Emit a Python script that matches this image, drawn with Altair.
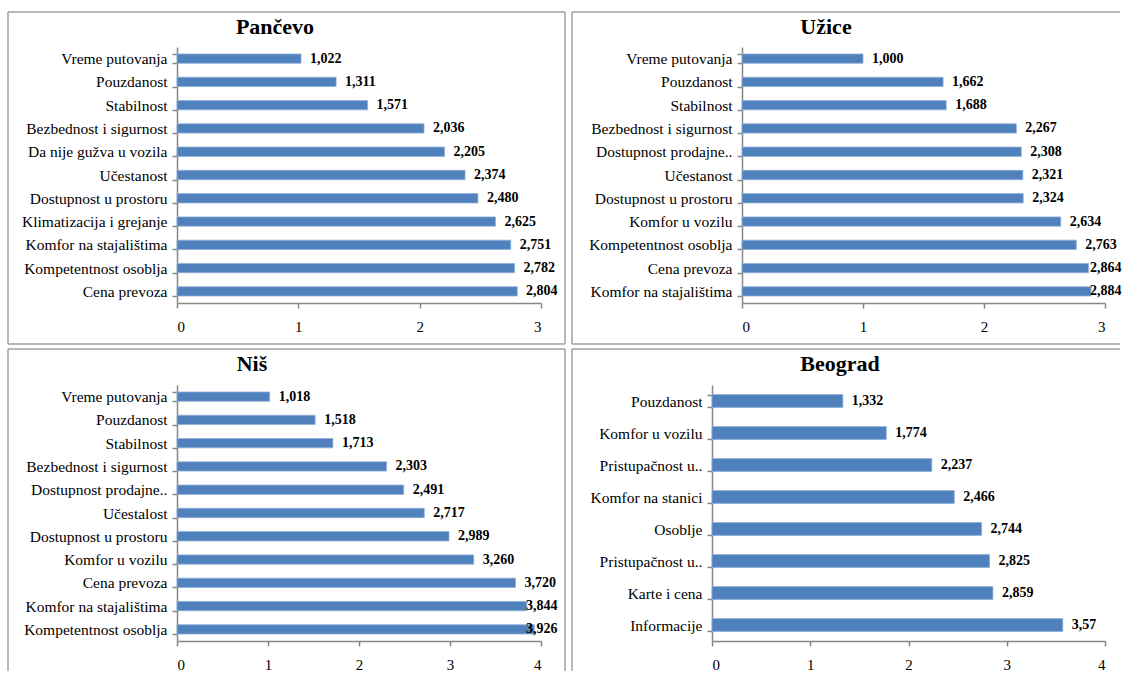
import json

import altair as alt
import pandas as pd

FONT = "Liberation Serif"
BAR_FILL = "#4F81BD"
BAR_EDGE = "#8FAFD8"
AXIS_GREY = "#878787"
FRAME_GREY = "#A0A0A0"

# ---- data: items listed top to bottom, scores as written on the labels ----
pancevo_items = [
    "Vreme putovanja", "Pouzdanost", "Stabilnost", "Bezbednost i sigurnost",
    "Da nije gužva u vozila", "Učestanost", "Dostupnost u prostoru",
    "Klimatizacija i grejanje", "Komfor na stajalištima",
    "Kompetentnost osoblja", "Cena prevoza",
]
pancevo_scores = ["1.022", "1.311", "1.571", "2.036", "2.205", "2.374",
                  "2.480", "2.625", "2.751", "2.782", "2.804"]

uzice_items = [
    "Vreme putovanja", "Pouzdanost", "Stabilnost", "Bezbednost i sigurnost",
    "Dostupnost prodajne..", "Učestanost", "Dostupnost u prostoru",
    "Komfor u vozilu", "Kompetentnost osoblja", "Cena prevoza",
    "Komfor na stajalištima",
]
uzice_scores = ["1.000", "1.662", "1.688", "2.267", "2.308", "2.321",
                "2.324", "2.634", "2.763", "2.864", "2.884"]

nis_items = [
    "Vreme putovanja", "Pouzdanost", "Stabilnost", "Bezbednost i sigurnost",
    "Dostupnost prodajne..", "Učestalost", "Dostupnost u prostoru",
    "Komfor u vozilu", "Cena prevoza", "Komfor na stajalištima",
    "Kompetentnost osoblja",
]
nis_scores = ["1.018", "1.518", "1.713", "2.303", "2.491", "2.717",
              "2.989", "3.260", "3.720", "3.844", "3.926"]

beograd_items = [
    "Pouzdanost", "Komfor u vozilu", "Pristupačnost u..", "Komfor na stanici",
    "Osoblje", "Pristupačnost u..", "Karte i cena", "Informacije",
]
beograd_scores = ["1.332", "1.774", "2.237", "2.466", "2.744", "2.825",
                  "2.859", "3.57"]

PLOT_H = 256
LABEL_GAP = 9      # px between a bar end and its value label
LABEL_STOP = 15    # value labels never start closer than this to the right edge
ONE_ROW = pd.DataFrame({"k": [0]})


def frame_segment(x1, x2, y1, y2):
    return alt.Chart(ONE_ROW).mark_rule(
        color=FRAME_GREY, strokeWidth=1.5
    ).encode(x=alt.value(x1), x2=alt.value(x2), y=alt.value(y1), y2=alt.value(y2))


def panel(title, items, scores, xmax, width, title_x, title_y, frame):
    df = pd.DataFrame({
        "rank": list(range(len(items))),
        "score": [float(s) for s in scores],
        "label": [s.replace(".", ",") for s in scores],
    })
    names = json.dumps(items, ensure_ascii=False)
    unit = xmax / width  # data units per pixel

    y_enc = alt.Y(
        "rank:O",
        sort="ascending",
        scale=alt.Scale(paddingInner=0.6, paddingOuter=0.3),
        axis=alt.Axis(
            title=None,
            labelExpr=f"{names}[datum.value]",
            tickBand="extent",
            tickSize=5,
            tickColor=AXIS_GREY,
            domainColor=AXIS_GREY,
            domainWidth=1.5,
            tickWidth=1.5,
            labelPadding=5,
            labelFont=FONT,
            labelFontSize=15.5,
            labelColor="black",
            labelLimit=400,
        ),
    )
    x_enc = alt.X(
        "score:Q",
        scale=alt.Scale(domain=[0, xmax], nice=False, zero=True),
        axis=alt.Axis(
            title=None,
            values=list(range(xmax + 1)),
            format="d",
            grid=False,
            tickSize=5,
            tickColor=AXIS_GREY,
            domainColor=AXIS_GREY,
            domainWidth=1.5,
            tickWidth=1.5,
            labelPadding=11,
            labelFont=FONT,
            labelFontSize=15,
            labelColor="black",
        ),
    )

    bars = alt.Chart(df).mark_bar(
        color=BAR_FILL, stroke=BAR_EDGE, strokeWidth=0.8
    ).encode(x=x_enc, y=y_enc)

    values = alt.Chart(df).transform_calculate(
        label_at=f"min(datum.score + {LABEL_GAP * unit}, {xmax - LABEL_STOP * unit})"
    ).mark_text(
        align="left", baseline="middle", font=FONT, fontSize=14,
        fontWeight="bold", color="black",
    ).encode(x="label_at:Q", y=alt.Y("rank:O", sort="ascending"), text="label:N")

    heading = alt.Chart(pd.DataFrame({"t": [title]})).mark_text(
        font=FONT, fontSize=22, fontWeight="bold", color="black",
        align="center", baseline="middle",
    ).encode(x=alt.value(title_x), y=alt.value(title_y), text="t:N")

    left, right, top, bottom, closed_right, closed_bottom = frame
    edges = [
        frame_segment(left, right, top, top),
        frame_segment(left, left, top, bottom),
    ]
    if closed_right:
        edges.append(frame_segment(right, right, top, bottom))
    if closed_bottom:
        edges.append(frame_segment(left, right, bottom, bottom))

    return alt.layer(bars, values, heading, *edges).properties(
        width=width, height=PLOT_H
    )


pancevo = panel("Pančevo", pancevo_items, pancevo_scores, 3, 364, 98, -20,
                (-169, 388, -35, 297, True, True))
uzice = panel("Užice", uzice_items, uzice_scores, 3, 363, 84, -20,
              (-170, 378, -35, 297, False, True))
nis = panel("Niš", nis_items, nis_scores, 4, 364, 75, -21,
            (-169, 388, -36, 286, True, False))
beograd = panel("Beograd", beograd_items, beograd_scores, 4, 393, 128, -21,
                (-140, 408, -36, 286, False, False))

# rows are laid out by their plot areas; the stack of rows by their frames
top_row = alt.hconcat(pancevo, uzice, spacing=201, bounds="flush")
bottom_row = alt.hconcat(nis, beograd, spacing=171, bounds="flush")

chart = (
    alt.vconcat(top_row, bottom_row, spacing=3, bounds="full")
    .properties(padding={"left": 7, "top": 11, "right": 0, "bottom": 0},
                background="white")
    .configure_view(stroke=None)
)

chart.save("out.html", embed_options={"renderer": "svg", "actions": False})
